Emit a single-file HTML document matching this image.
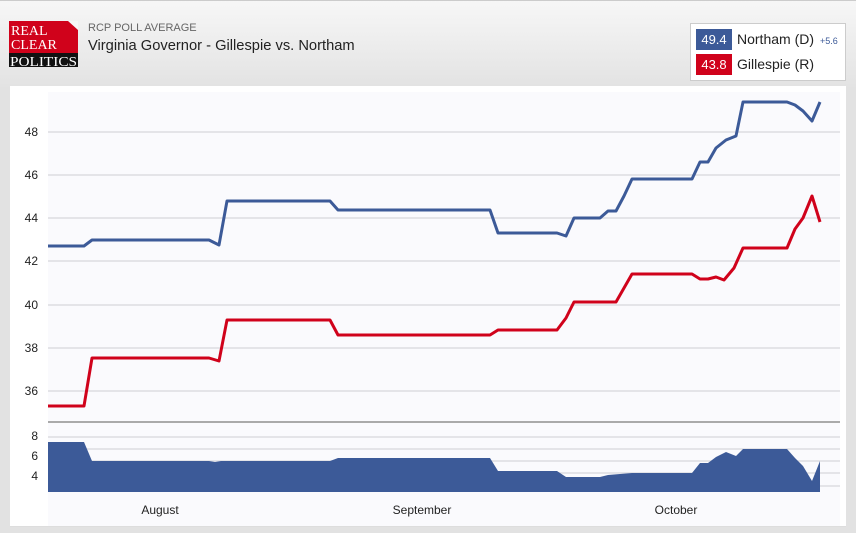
<!DOCTYPE html>
<html><head><style>
body{margin:0;width:856px;height:533px;overflow:hidden;background:linear-gradient(#f7f7f7,#e2e2e2 90px,#e2e2e2);font-family:"Liberation Sans",sans-serif;position:relative}
</style></head><body>
<div style="position:absolute;left:0;top:0;width:856px;height:1px;background:#ccc"></div>
<svg width="856" height="533" style="position:absolute;left:0;top:0" font-family="Liberation Sans, sans-serif">
<rect x="9" y="21" width="69" height="46" fill="#d0021b"/>
<polygon points="68,21 78,21 78,30" fill="#f7f7f7"/>
<rect x="9" y="53" width="69" height="14" fill="#111"/>
<text x="11" y="35" font-family="Liberation Serif,serif" font-size="14" fill="#fff">REAL</text>
<text x="11" y="49" font-family="Liberation Serif,serif" font-size="14" fill="#fff">CLEAR</text>
<text x="10" y="66" font-family="Liberation Serif,serif" font-size="14" fill="#fff" textLength="67" lengthAdjust="spacingAndGlyphs">POLITICS</text>
<text x="88" y="31" font-size="11" fill="#666">RCP POLL AVERAGE</text>
<text x="88" y="50" font-size="14.7" fill="#222">Virginia Governor - Gillespie vs. Northam</text>
<rect x="690.5" y="23.5" width="155" height="57" fill="#fff" stroke="#ccc"/>
<rect x="696" y="29" width="36" height="21" fill="#3c5a98"/>
<rect x="696" y="54" width="36" height="21" fill="#d0021b"/>
<text x="714" y="44" font-size="13" fill="#fff" text-anchor="middle">49.4</text>
<text x="714" y="69" font-size="13" fill="#fff" text-anchor="middle">43.8</text>
<text x="737" y="44" font-size="14" fill="#222">Northam (D)</text>
<text x="820" y="44" font-size="9" fill="#3c5a98">+5.6</text>
<text x="737" y="69" font-size="14" fill="#222">Gillespie (R)</text>
<rect x="10" y="86" width="836" height="441" fill="#fff"/>
<rect x="48" y="92" width="792" height="435" fill="#fafafd"/>
<rect x="10" y="526" width="836" height="1" fill="#ddd"/>
<g stroke="#dcdce2" stroke-width="1.5">
<line x1="48" x2="840" y1="132" y2="132"/><line x1="48" x2="840" y1="175" y2="175"/><line x1="48" x2="840" y1="218" y2="218"/><line x1="48" x2="840" y1="261" y2="261"/><line x1="48" x2="840" y1="305" y2="305"/><line x1="48" x2="840" y1="348" y2="348"/><line x1="48" x2="840" y1="391" y2="391"/>
<line x1="48" x2="840" y1="437" y2="437"/><line x1="48" x2="840" y1="449" y2="449"/><line x1="48" x2="840" y1="461" y2="461"/><line x1="48" x2="840" y1="473" y2="473"/><line x1="48" x2="840" y1="486" y2="486"/>
</g>
<line x1="48" x2="840" y1="422" y2="422" stroke="#aaa" stroke-width="2"/>
<g font-size="12" fill="#222" text-anchor="end">
<text x="38" y="136">48</text><text x="38" y="179">46</text><text x="38" y="222">44</text><text x="38" y="265">42</text><text x="38" y="309">40</text><text x="38" y="352">38</text><text x="38" y="395">36</text>
<text x="38" y="440">8</text><text x="38" y="460">6</text><text x="38" y="480">4</text>
</g>
<g font-size="12" fill="#222" text-anchor="middle">
<text x="160" y="514">August</text><text x="422" y="514">September</text><text x="676" y="514">October</text>
</g>
<polygon fill="#3c5a98" points="48,492 48,442 84,442 92,461 209,461 215,462 221,461 330,461 338,458 490,458 498,471 557,471 566,477 600,477 608,475 632,473 692,473 700,463 708,463 716,457 726,452 736,456 743,449 787,449 795,458 803,466 812,481 820,461 820,492"/>
<polyline fill="none" stroke="#3c5a98" stroke-width="3" stroke-linejoin="round" points="48,246 84,246 92,240 209,240 219,245 227,201 330,201 338,210 490,210 498,233 557,233 566,236 574,218 600,218 608,211 616,211 624,196 632,179 692,179 700,162 708,162 716,148 726,140 736,136 743,102 787,102 795,105 803,111 812,121 820,102"/>
<polyline fill="none" stroke="#d0021b" stroke-width="3" stroke-linejoin="round" points="48,406 84,406 92,358 209,358 219,361 227,320 330,320 338,335 490,335 498,330 557,330 566,318 574,302 616,302 624,288 632,274 692,274 700,279 708,279 716,277 724,280 734,268 743,248 787,248 795,229 803,218 812,196 820,222"/>
</svg>
</body></html>
